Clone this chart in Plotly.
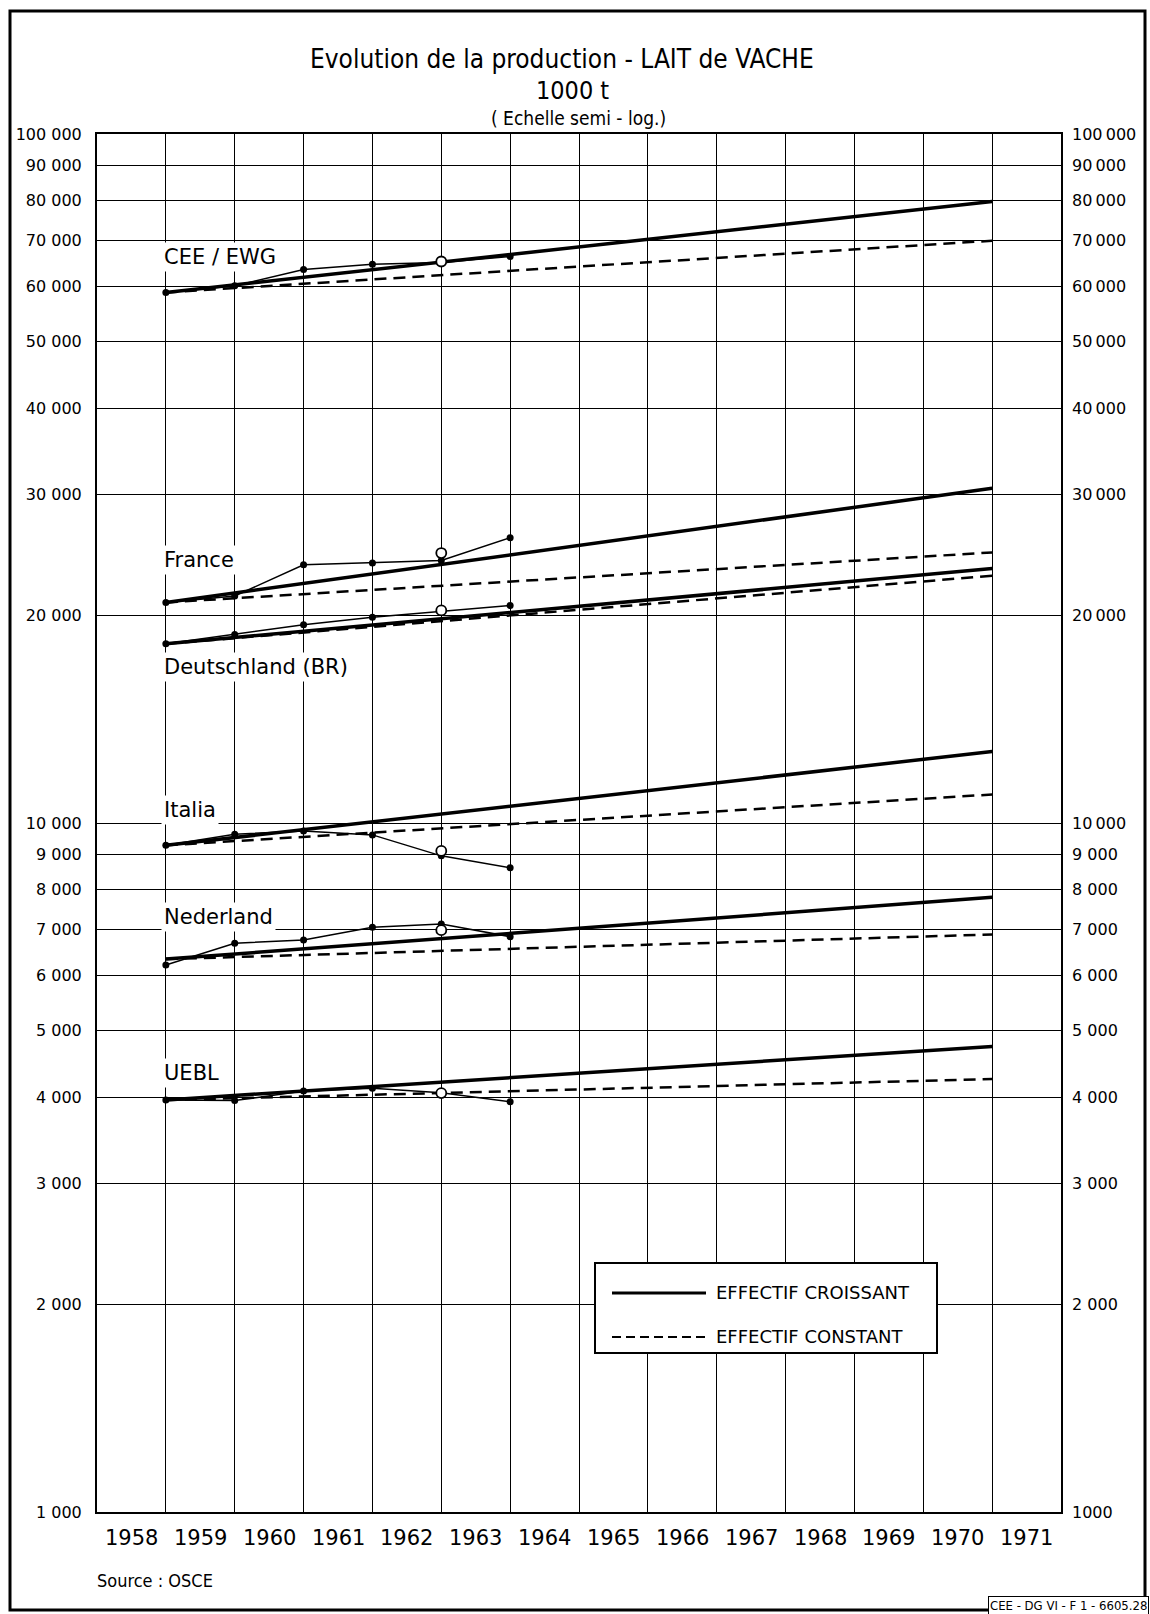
import plotly.graph_objects as go

# ---- data (1000 t) ----
years_obs = [1958, 1959, 1960, 1961, 1962, 1963]
trend_years = [1958, 1970]
axis_years = list(range(1958, 1972))

countries = ["CEE / EWG", "France", "Deutschland (BR)", "Italia", "Nederland", "UEBL"]

cee = [58900, 60200, 63600, 64700, 65100, 66400]
france = [20900, 21350, 23700, 23850, 24050, 25950]
deutschland = [18200, 18780, 19400, 19890, 20280, 20680]
italia = [9280, 9630, 9740, 9610, 8960, 8610]
nederland = [6220, 6690, 6765, 7057, 7135, 6840]
uebl = [3963, 3955, 4083, 4120, 4060, 3940]

# provisional 1962 values (open circles)
prov_year = 1962
cee_prov = 65300
france_prov = 24650
deutschland_prov = 20350
italia_prov = 9110
nederland_prov = 6990
uebl_prov = 4055

# trend projections 1958 -> 1970
cee_croissant = [58900, 79800]
cee_constant = [58900, 70000]
france_croissant = [20900, 30600]
france_constant = [20900, 24700]
deutschland_croissant = [18200, 23400]
deutschland_constant = [18200, 22850]
italia_croissant = [9280, 12700]
italia_constant = [9280, 11000]
nederland_croissant = [6345, 7800]
nederland_constant = [6345, 6890]
uebl_croissant = [3963, 4740]
uebl_constant = [3963, 4250]

y_ticks = [1000, 2000, 3000, 4000, 5000, 6000, 7000, 8000, 9000, 10000,
           20000, 30000, 40000, 50000, 60000, 70000, 80000, 90000, 100000]
y_text_left = ["1 000", "2 000", "3 000", "4 000", "5 000", "6 000", "7 000", "8 000", "9 000",
               "10 000", "20 000", "30 000", "40 000", "50 000", "60 000", "70 000", "80 000",
               "90 000", "100 000"]
y_text_right = ["1000", "2 000", "3 000", "4 000", "5 000", "6 000", "7 000", "8 000", "9 000",
                "10\u2009000", "20\u2009000", "30\u2009000", "40\u2009000", "50\u2009000",
                "60\u2009000", "70\u2009000", "80\u2009000", "90\u2009000", "100\u2009000"]

series = [
    (cee, cee_prov, cee_croissant, cee_constant),
    (france, france_prov, france_croissant, france_constant),
    (deutschland, deutschland_prov, deutschland_croissant, deutschland_constant),
    (italia, italia_prov, italia_croissant, italia_constant),
    (nederland, nederland_prov, nederland_croissant, nederland_constant),
    (uebl, uebl_prov, uebl_croissant, uebl_constant),
]

# ---- page geometry (pixels) ----
W, H = 1150, 1614
L, R, T, B = 97, 1061, 134, 1512


def px(x):
    return (x - L) / (R - L)


def py(y):
    return (B - y) / (B - T)


BASE = "DejaVu Sans"
COND = "DejaVu Sans Condensed, Liberation Sans Narrow, DejaVu Sans"

fig = go.Figure()

for obs, prov, up, flat in series:
    fig.add_trace(go.Scatter(
        x=trend_years, y=up, mode="lines",
        line=dict(color="black", width=3.5), hoverinfo="skip", showlegend=False))
    fig.add_trace(go.Scatter(
        x=trend_years, y=flat, mode="lines",
        line=dict(color="black", width=2.5, dash="12px,7px"), hoverinfo="skip", showlegend=False))
    fig.add_trace(go.Scatter(
        x=years_obs, y=obs, mode="lines+markers",
        line=dict(color="black", width=1.5),
        marker=dict(color="black", size=7), showlegend=False))
    fig.add_trace(go.Scatter(
        x=[prov_year], y=[prov], mode="markers",
        marker=dict(symbol="circle", color="white", size=10,
                    line=dict(color="black", width=1.8)),
        showlegend=False))

# invisible trace so the right-hand axis is drawn
fig.add_trace(go.Scatter(x=[1958], y=[1000], yaxis="y2", mode="markers",
                         marker=dict(opacity=0), hoverinfo="skip", showlegend=False))

fig.update_layout(
    width=W, height=H,
    margin=dict(l=L, r=W - R, t=T, b=H - B),
    paper_bgcolor="white", plot_bgcolor="white",
    showlegend=False,
    xaxis=dict(
        range=[axis_years[0] - 1, axis_years[-1]],
        tickvals=axis_years[:-1], showticklabels=False, ticks="",
        showgrid=True, gridcolor="black", gridwidth=1.3,
        showline=True, linecolor="black", linewidth=2, mirror=True,
        zeroline=False, fixedrange=True,
    ),
    yaxis=dict(
        type="log", range=[3, 5],
        tickvals=y_ticks, ticktext=y_text_left, ticks="",
        ticklabelstandoff=10,
        tickfont=dict(family=BASE, size=16, color="black"),
        showgrid=True, gridcolor="black", gridwidth=1.3,
        showline=True, linecolor="black", linewidth=2, mirror=True,
        zeroline=False, fixedrange=True,
    ),
    yaxis2=dict(
        type="log", range=[3, 5], overlaying="y", side="right",
        tickvals=y_ticks, ticktext=y_text_right, ticks="",
        ticklabelstandoff=10,
        tickfont=dict(family=BASE, size=16, color="black"),
        showgrid=False, zeroline=False, fixedrange=True,
    ),
)

ann = []

# year labels, centred in each column
for yr in axis_years:
    ann.append(dict(x=yr - 0.5, xref="x", y=py(1538), yref="paper",
                    text=str(yr), showarrow=False, xanchor="center", yanchor="middle",
                    font=dict(family=BASE, size=21, color="black")))

# country labels
label_y = [257, 560, 667, 810, 917, 1073]
for name, yy in zip(countries, label_y):
    ann.append(dict(x=px(161), xref="paper", y=py(yy), yref="paper",
                    text=name, showarrow=False, xanchor="left", yanchor="middle",
                    bgcolor="white", borderpad=2,
                    font=dict(family=BASE, size=21, color="black")))

# titles
ann.append(dict(x=px(562), xref="paper", y=py(59), yref="paper",
                text="Evolution de la production - LAIT de VACHE", showarrow=False,
                xanchor="center", yanchor="middle",
                font=dict(family=COND, size=26, color="black")))
ann.append(dict(x=px(572), xref="paper", y=py(91), yref="paper",
                text="1000 t", showarrow=False, xanchor="center", yanchor="middle",
                font=dict(family=COND, size=25, color="black")))
ann.append(dict(x=px(578), xref="paper", y=py(118), yref="paper",
                text="( Echelle semi - log.)", showarrow=False, xanchor="center", yanchor="middle",
                font=dict(family=COND, size=19, color="black")))

# source and reference
ann.append(dict(x=px(95), xref="paper", y=py(1580), yref="paper",
                text="Source : OSCE", showarrow=False, xanchor="left", yanchor="middle",
                font=dict(family=COND, size=18, color="black")))
ann.append(dict(x=px(1149), xref="paper", y=py(1605), yref="paper",
                text="CEE - DG VI - F 1 - 6605.28", showarrow=False, xanchor="right", yanchor="middle",
                bgcolor="white", bordercolor="black", borderwidth=1, borderpad=1,
                font=dict(family=COND, size=13, color="black")))

# legend text
ann.append(dict(x=px(714), xref="paper", y=py(1292), yref="paper",
                text="EFFECTIF CROISSANT", showarrow=False, xanchor="left", yanchor="middle",
                font=dict(family=BASE, size=18, color="black")))
ann.append(dict(x=px(714), xref="paper", y=py(1336), yref="paper",
                text="EFFECTIF CONSTANT", showarrow=False, xanchor="left", yanchor="middle",
                font=dict(family=BASE, size=18, color="black")))

shapes = [
    # legend box
    dict(type="rect", xref="paper", yref="paper", x0=px(595), x1=px(937), y0=py(1263), y1=py(1353),
         line=dict(color="black", width=2), fillcolor="white", layer="above"),
    dict(type="line", xref="paper", yref="paper", x0=px(612), x1=px(706), y0=py(1293), y1=py(1293),
         line=dict(color="black", width=3), layer="above"),
    dict(type="line", xref="paper", yref="paper", x0=px(612), x1=px(706), y0=py(1337), y1=py(1337),
         line=dict(color="black", width=2, dash="9px,5px"), layer="above"),
    # page frame
    dict(type="rect", xref="paper", yref="paper", x0=px(10), x1=px(1145), y0=py(11), y1=py(1610),
         line=dict(color="black", width=3), fillcolor="rgba(0,0,0,0)", layer="above"),
]

fig.update_layout(annotations=ann, shapes=shapes)

fig.write_html("out.html")
